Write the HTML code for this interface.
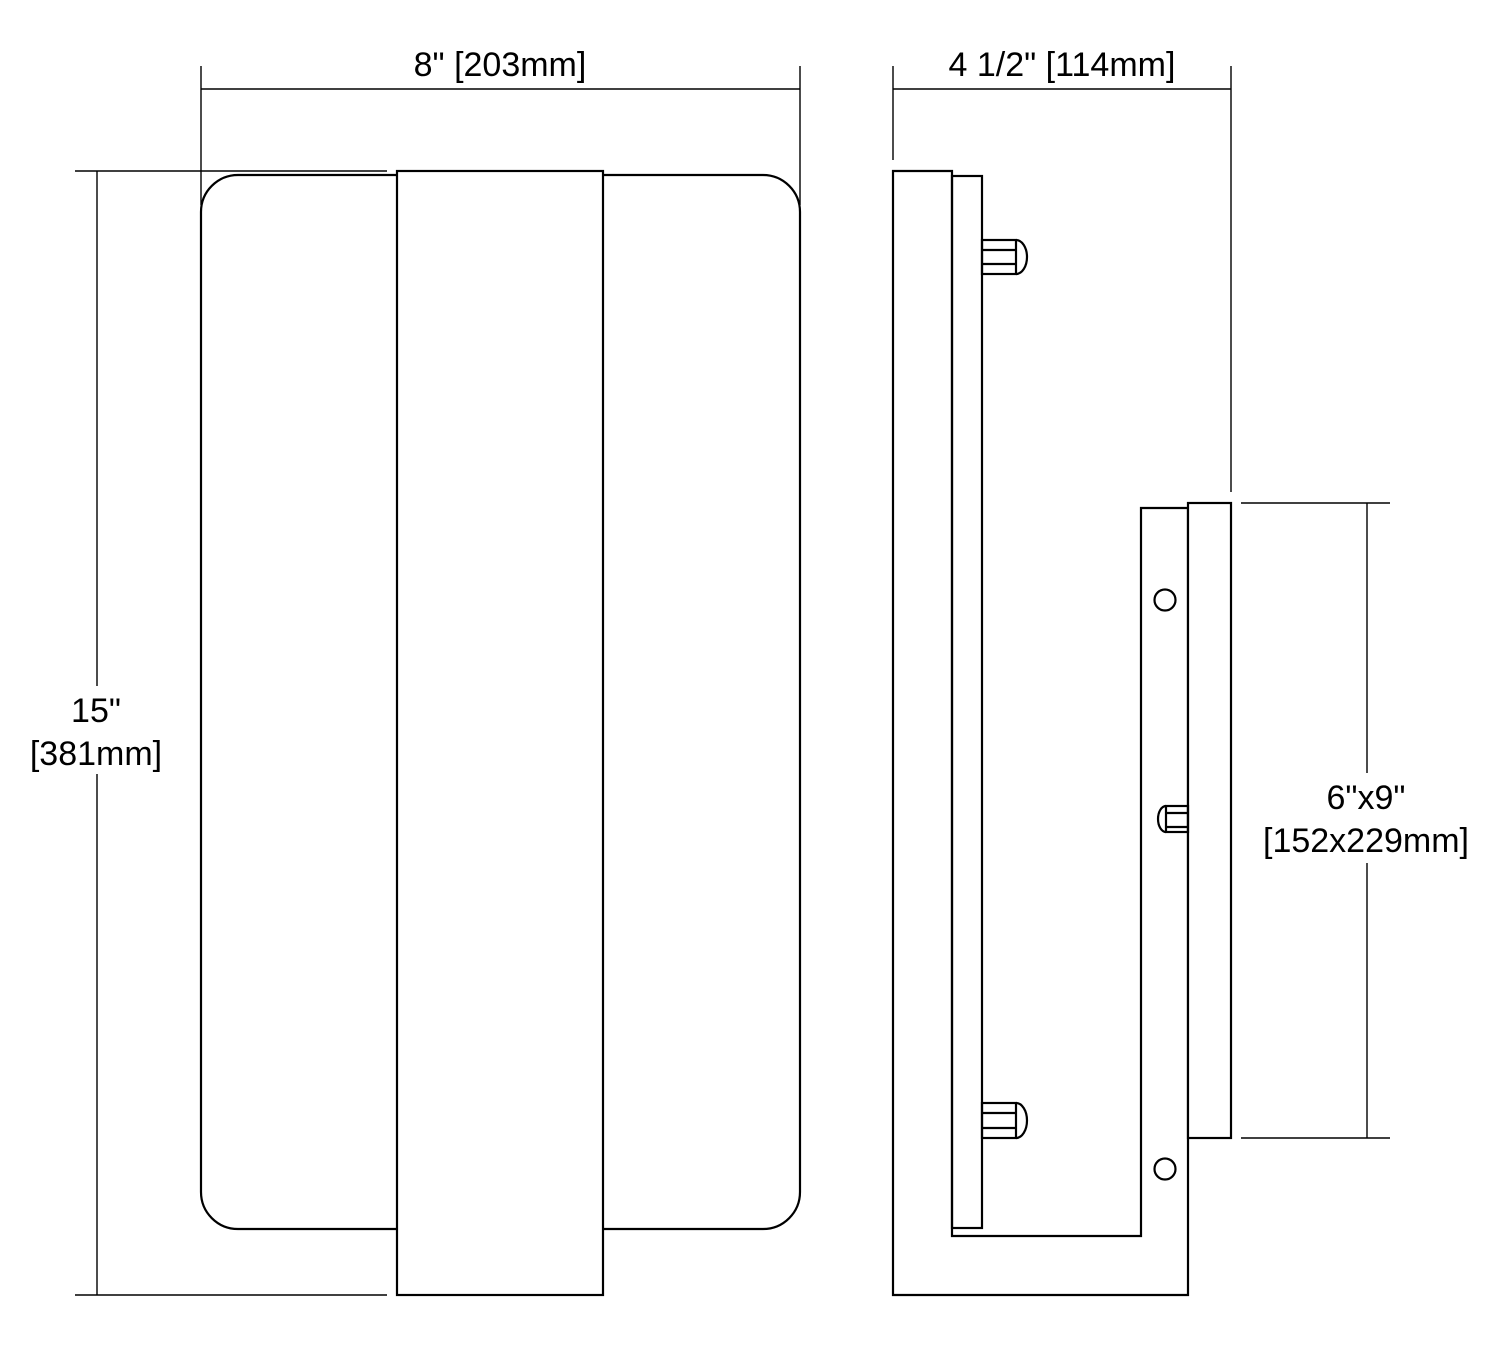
<!DOCTYPE html>
<html><head><meta charset="utf-8"><style>html,body{margin:0;padding:0;background:#fff}</style></head>
<body>
<svg width="1500" height="1347" viewBox="0 0 1500 1347" xmlns="http://www.w3.org/2000/svg">
<g fill="none" stroke="#000" stroke-width="2.2">
<!-- front view -->
<rect x="201" y="175" width="599" height="1054" rx="37" ry="37" fill="#fff"/>
<rect x="397" y="171" width="206" height="1124" fill="#fff"/>
<!-- front dims -->
<g stroke-width="1.4">
<line x1="201" y1="89" x2="800" y2="89"/>
<line x1="201" y1="66" x2="201" y2="205"/>
<line x1="800" y1="66" x2="800" y2="205"/>
<line x1="97" y1="171" x2="97" y2="1295"/>
<line x1="75" y1="171" x2="387" y2="171"/>
<line x1="75" y1="1295" x2="387" y2="1295"/>
</g>
<!-- side view -->
<path d="M893 171 H952 V1236 H1141 V508 H1188 V1295 H893 Z" fill="#fff"/>
<rect x="952" y="176" width="30" height="1052"/>
<rect x="1188" y="503" width="43" height="635" fill="#fff"/>
<!-- bolts -->
<rect x="982" y="240" width="34" height="34"/>
<line x1="982" y1="250" x2="1016" y2="250"/><line x1="982" y1="264" x2="1016" y2="264"/>
<path d="M1016 240 A11 17 0 0 1 1016 274"/>
<rect x="982" y="1103" width="34" height="35"/>
<line x1="982" y1="1113" x2="1016" y2="1113"/><line x1="982" y1="1128" x2="1016" y2="1128"/>
<path d="M1016 1103 A11 17.5 0 0 1 1016 1138"/>
<rect x="1166" y="806" width="22" height="26"/>
<line x1="1166" y1="813" x2="1188" y2="813"/><line x1="1166" y1="827" x2="1188" y2="827"/>
<path d="M1166 806 A8 13 0 0 0 1166 832"/>
<circle cx="1165" cy="600" r="10.5"/>
<circle cx="1165" cy="1169" r="10.5"/>
<!-- side dims -->
<g stroke-width="1.4">
<line x1="893" y1="89" x2="1231" y2="89"/>
<line x1="893" y1="66" x2="893" y2="160"/>
<line x1="1231" y1="66" x2="1231" y2="492"/>
<line x1="1367" y1="503" x2="1367" y2="1138"/>
<line x1="1241" y1="503" x2="1390" y2="503"/>
<line x1="1241" y1="1138" x2="1390" y2="1138"/>
</g>
</g>
<g font-family="Liberation Sans, sans-serif" font-size="34" text-anchor="middle" fill="#000">
<rect x="320" y="40" width="290" height="40" fill="#fff"/>
<text x="500" y="76">8" [203mm]</text>
<text x="1062" y="76">4 1/2" [114mm]</text>
<rect x="15" y="686" width="165" height="88" fill="#fff"/>
<text x="96" y="722">15"</text>
<text x="96" y="765">[381mm]</text>
<rect x="1250" y="773" width="234" height="90" fill="#fff"/>
<text x="1366" y="809">6"x9"</text>
<text x="1366" y="852">[152x229mm]</text>
</g>
</svg>
</body></html>
